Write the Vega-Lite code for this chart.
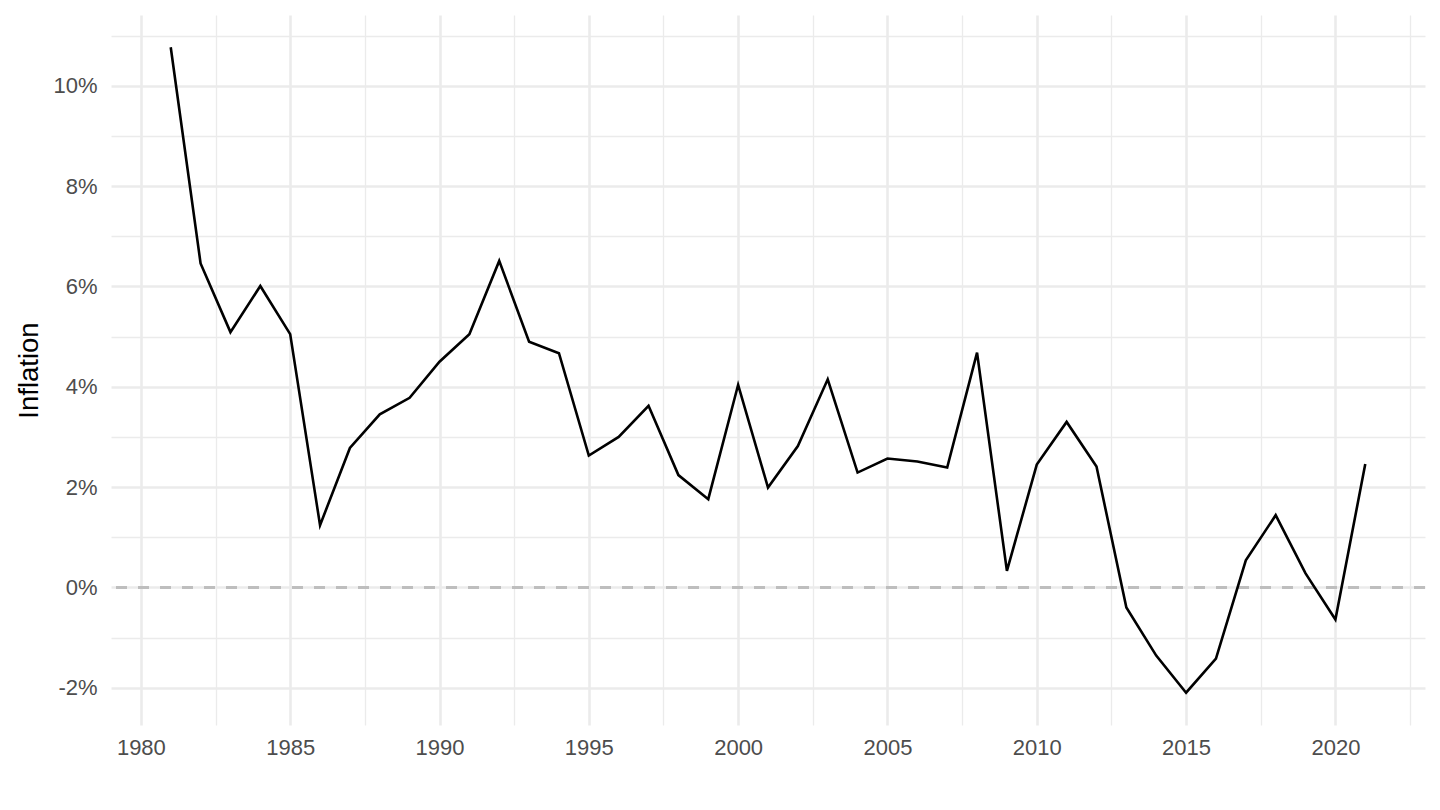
{
  "$schema": "https://vega.github.io/schema/vega-lite/v6.json",
  "width": 1314,
  "height": 710,
  "autosize": {"type": "none"},
  "padding": {"left": 111, "top": 15, "right": 15, "bottom": 85},
  "background": "white",
  "config": {
    "view": {"stroke": null},
    "font": "Liberation Sans"
  },
  "data": {
    "values": [
      {"year": 1981, "inflation": 10.77},
      {"year": 1982, "inflation": 6.46},
      {"year": 1983, "inflation": 5.09},
      {"year": 1984, "inflation": 6.01},
      {"year": 1985, "inflation": 5.05},
      {"year": 1986, "inflation": 1.24},
      {"year": 1987, "inflation": 2.78},
      {"year": 1988, "inflation": 3.45},
      {"year": 1989, "inflation": 3.78},
      {"year": 1990, "inflation": 4.50},
      {"year": 1991, "inflation": 5.05},
      {"year": 1992, "inflation": 6.51},
      {"year": 1993, "inflation": 4.90},
      {"year": 1994, "inflation": 4.67},
      {"year": 1995, "inflation": 2.63},
      {"year": 1996, "inflation": 3.00},
      {"year": 1997, "inflation": 3.62},
      {"year": 1998, "inflation": 2.24},
      {"year": 1999, "inflation": 1.76},
      {"year": 2000, "inflation": 4.04},
      {"year": 2001, "inflation": 1.99},
      {"year": 2002, "inflation": 2.82},
      {"year": 2003, "inflation": 4.15},
      {"year": 2004, "inflation": 2.29},
      {"year": 2005, "inflation": 2.57},
      {"year": 2006, "inflation": 2.51},
      {"year": 2007, "inflation": 2.39},
      {"year": 2008, "inflation": 4.68},
      {"year": 2009, "inflation": 0.33},
      {"year": 2010, "inflation": 2.45},
      {"year": 2011, "inflation": 3.30},
      {"year": 2012, "inflation": 2.41},
      {"year": 2013, "inflation": -0.40},
      {"year": 2014, "inflation": -1.36},
      {"year": 2015, "inflation": -2.10},
      {"year": 2016, "inflation": -1.42},
      {"year": 2017, "inflation": 0.54},
      {"year": 2018, "inflation": 1.44},
      {"year": 2019, "inflation": 0.28},
      {"year": 2020, "inflation": -0.64},
      {"year": 2021, "inflation": 2.46}
    ]
  },
  "resolve": {"axis": {"x": "independent", "y": "independent"}},
  "layer": [
    {
      "mark": {"type": "line", "strokeOpacity": 0},
      "encoding": {
        "x": {
          "field": "year", "type": "quantitative",
          "scale": {"domain": [1979, 2023], "nice": false, "zero": false},
          "axis": {
            "orient": "bottom",
            "values": [1982.5, 1987.5, 1992.5, 1997.5, 2002.5, 2007.5, 2012.5, 2017.5, 2022.5],
            "labels": false, "ticks": false, "domain": false, "title": null,
            "grid": true, "gridColor": "#EBEBEB", "gridWidth": 1.3
          }
        },
        "y": {
          "field": "inflation", "type": "quantitative",
          "scale": {"domain": [-2.7435, 11.4135], "nice": false, "zero": false},
          "axis": {
            "orient": "left",
            "values": [-1, 1, 3, 5, 7, 9, 11],
            "labels": false, "ticks": false, "domain": false, "title": null,
            "grid": true, "gridColor": "#EBEBEB", "gridWidth": 1.3
          }
        }
      }
    },
    {
      "mark": {"type": "rule", "color": "#BEBEBE", "strokeWidth": 2.4, "strokeDash": [11, 11]},
      "encoding": {
        "y": {"datum": 0, "type": "quantitative", "axis": null}
      }
    },
    {
      "mark": {"type": "line", "color": "black", "strokeWidth": 2.6},
      "encoding": {
        "x": {
          "field": "year", "type": "quantitative",
          "axis": {
            "orient": "bottom",
            "values": [1980, 1985, 1990, 1995, 2000, 2005, 2010, 2015, 2020],
            "format": "d",
            "ticks": false, "domain": false, "title": null,
            "grid": true, "gridColor": "#EBEBEB", "gridWidth": 2.6,
            "labelFont": "Liberation Sans", "labelFontSize": 22, "labelColor": "#4D4D4D",
            "labelPadding": 12
          }
        },
        "y": {
          "field": "inflation", "type": "quantitative",
          "axis": {
            "orient": "left",
            "values": [-2, 0, 2, 4, 6, 8, 10],
            "labelExpr": "datum.value + '%'",
            "ticks": false, "domain": false,
            "title": "Inflation",
            "titleFont": "Liberation Sans", "titleFontSize": 27.5, "titleFontWeight": "normal", "titleColor": "black",
            "titlePadding": 9,
            "grid": true, "gridColor": "#EBEBEB", "gridWidth": 2.6,
            "labelFont": "Liberation Sans", "labelFontSize": 22, "labelColor": "#4D4D4D",
            "labelPadding": 14
          }
        }
      }
    }
  ]
}
